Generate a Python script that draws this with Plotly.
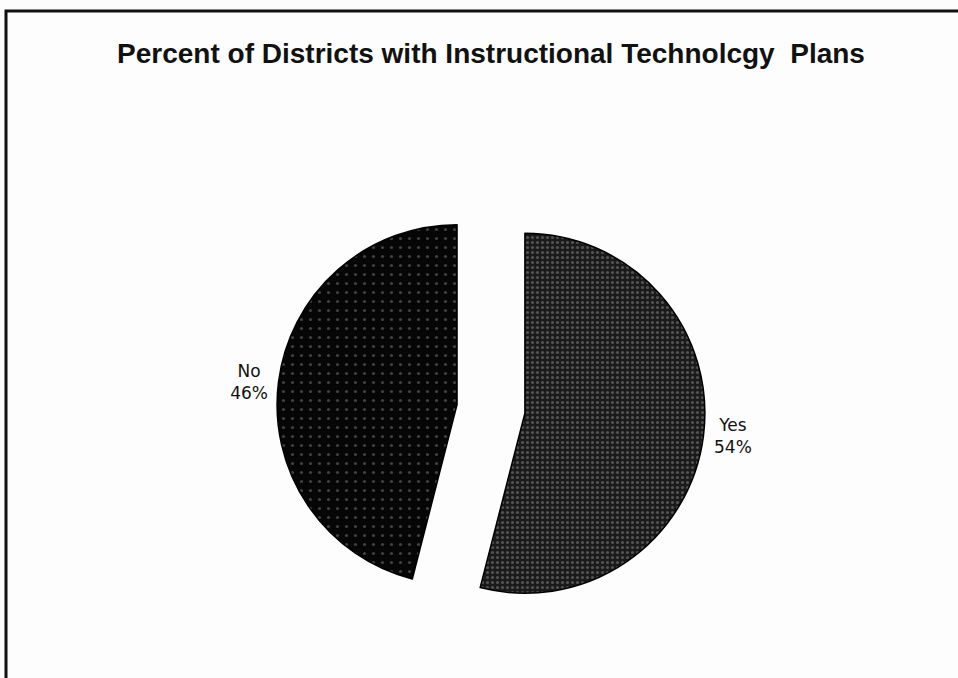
import plotly.graph_objects as go

# Survey result: share of districts that have an instructional technology plan
labels = ["Yes", "No"]
percents = [54, 46]

title_text = "Percent of Districts with Instructional Technolcgy  Plans"

W, H = 958, 678

fig = go.Figure()

fig.add_trace(go.Pie(
    labels=labels,
    values=percents,
    sort=False,
    direction="clockwise",
    rotation=0,
    pull=[0.19, 0.19],
    textinfo="label+percent",
    texttemplate="%{label}<br>%{percent:.0%}",
    textposition="outside",
    outsidetextfont=dict(family="DejaVu Sans", size=17, color="#111111"),
    marker=dict(
        colors=["#262626", "#0a0a0a"],
        line=dict(color="#000000", width=1.5),
        pattern=dict(
            shape=[".", "."],
            fgcolor=["#8c8c8c", "#7a7a7a"],
            bgcolor=["#1a1a1a", "#060606"],
            size=[5, 9],
            solidity=[0.3, 0.1],
            fillmode="overlay",
        ),
    ),
    domain=dict(x=[0.2889, 0.7361], y=[0.0809, 0.7127]),
    showlegend=False,
    hoverinfo="label+percent",
))

# Frame around the chart
fig.add_shape(
    type="rect", xref="paper", yref="paper",
    x0=6 / W, x1=1.02, y0=-0.02, y1=1 - 11 / H,
    line=dict(color="#111111", width=3),
    fillcolor="rgba(0,0,0,0)",
)

fig.update_layout(
    width=W, height=H,
    margin=dict(l=0, r=0, t=0, b=0),
    paper_bgcolor="#fdfdfd",
    plot_bgcolor="#fdfdfd",
    title=dict(
        text="<b>" + title_text + "</b>",
        x=491 / W, xanchor="center",
        y=1 - 53 / H, yanchor="middle",
        yref="container", xref="container",
        font=dict(family="Liberation Sans, Arial, sans-serif", size=28, color="#111111"),
    ),
)

fig.write_html("out.html")
